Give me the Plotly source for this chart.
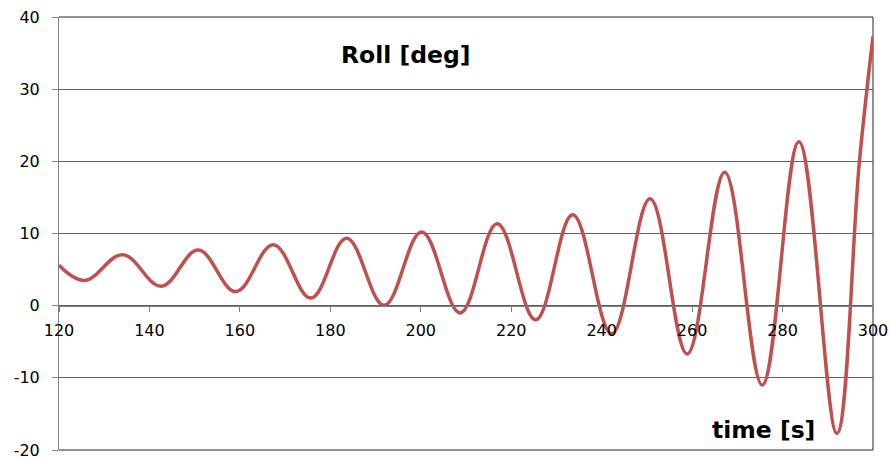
import plotly.graph_objects as go

# Roll response over time: successive turning points [s], [deg]
time_s = [
    120.0, 125.7, 134.1, 142.6, 150.8, 159.1, 167.4, 175.7, 183.6, 191.9,
    200.2, 208.7, 216.9, 225.4, 233.6, 242.2, 250.7, 258.9, 267.2, 275.5,
    283.6, 292.0, 297.0, 300.0,
]
roll_deg = [
    5.6, 3.5, 7.05, 2.7, 7.7, 1.95, 8.45, 1.05, 9.35, 0.05,
    10.2, -1.0, 11.35, -1.95, 12.6, -3.9, 14.8, -6.7, 18.5, -11.0,
    22.7, -17.7, 20.0, 37.3,
]

x_ticks = [120, 140, 160, 180, 200, 220, 240, 260, 280, 300]
y_ticks = [-20, -10, 0, 10, 20, 30, 40]

AXIS_FONT = dict(family="DejaVu Sans, Arial, sans-serif", size=16, color="#000000")
LABEL_FONT = dict(family="DejaVu Sans, Calibri, sans-serif", size=23.5, color="#000000")

fig = go.Figure()
fig.add_trace(go.Scatter(
    x=time_s, y=roll_deg, mode="lines",
    line=dict(color="#C0504D", width=3.5, shape="spline", smoothing=1.1),
    hoverinfo="skip", showlegend=False,
))

fig.update_layout(
    width=891, height=460,
    margin=dict(l=59, r=18, t=17, b=10),
    paper_bgcolor="white", plot_bgcolor="white",
    xaxis=dict(
        range=[120, 300], tickvals=x_ticks, ticktext=[str(v) for v in x_ticks],
        showgrid=False, zeroline=False, automargin=False,
        showline=True, linecolor="#808080", linewidth=1,
        ticks="outside", ticklen=5, tickcolor="#808080",
        anchor="free", position=20 / 60,
        tickfont=AXIS_FONT, ticklabelstandoff=5,
    ),
    yaxis=dict(
        range=[-20, 40], tickvals=y_ticks, ticktext=[str(v) for v in y_ticks],
        showgrid=True, gridcolor="#5f5f5f", gridwidth=1, zeroline=False,
        automargin=False,
        showline=True, linecolor="#808080", linewidth=1,
        ticks="outside", ticklen=6, tickcolor="#808080",
        tickfont=AXIS_FONT, ticklabelstandoff=9,
    ),
    shapes=[
        dict(type="line", xref="paper", yref="paper", x0=0, x1=1, y0=1, y1=1,
             line=dict(color="#222222", width=1), layer="below"),
        dict(type="line", xref="paper", yref="paper", x0=0, x1=1, y0=0, y1=0,
             line=dict(color="#222222", width=1), layer="below"),
        dict(type="line", xref="paper", yref="paper", x0=1, x1=1, y0=0, y1=1,
             line=dict(color="#222222", width=1), layer="below"),
    ],
    annotations=[
        dict(text="<b>Roll [deg]</b>", xref="paper", yref="paper",
             x=(406 - 59) / 814, y=(450 - 55) / 433,
             xanchor="center", yanchor="middle", showarrow=False, font=LABEL_FONT),
        dict(text="<b>time [s]</b>", xref="paper", yref="paper",
             x=(763 - 59) / 814, y=(450 - 430) / 433,
             xanchor="center", yanchor="middle", showarrow=False, font=LABEL_FONT),
    ],
)

fig.write_html("out.html")
